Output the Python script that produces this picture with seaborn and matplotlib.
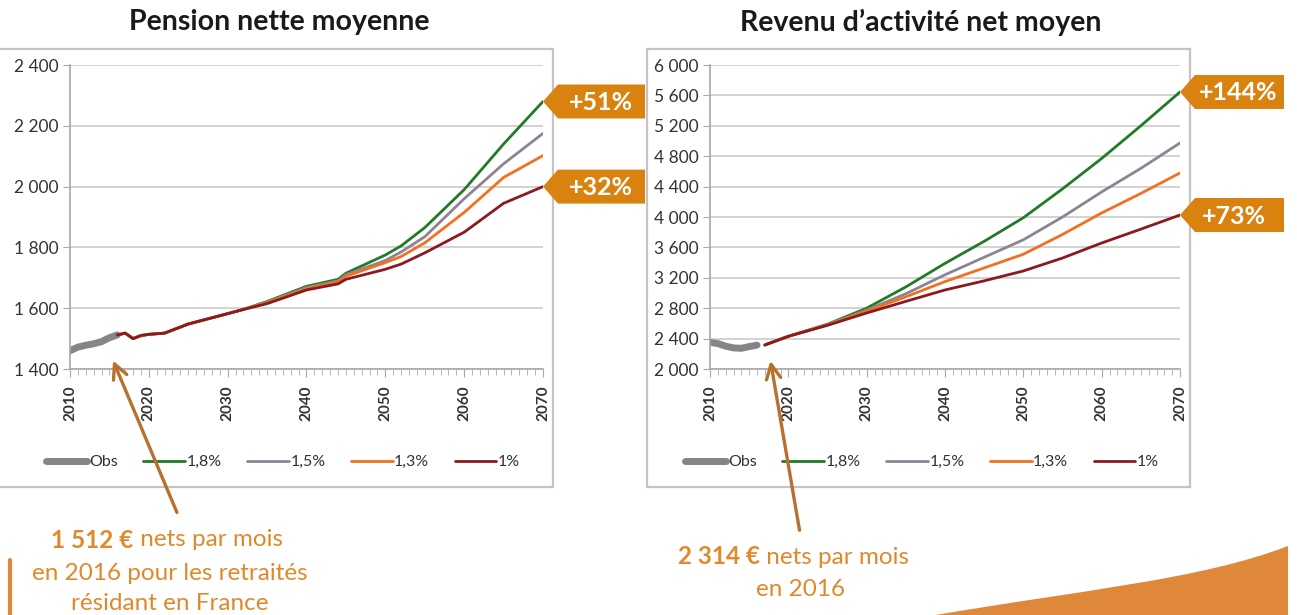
import matplotlib.pyplot as plt
import matplotlib.patches as mpatches
from matplotlib.path import Path
from matplotlib.ticker import FuncFormatter, MultipleLocator
import seaborn as sns

# -------------------------------
# Data
# -------------------------------
obs_years = [2010, 2011, 2012, 2013, 2014, 2015, 2016]
pension_obs = [1460, 1472, 1478, 1483, 1490, 1503, 1512]
revenu_obs = [2350, 2335, 2300, 2278, 2272, 2295, 2314]

proj_years_p = [2016, 2017, 2018, 2019, 2020, 2022, 2025, 2030, 2032,
                2035, 2040, 2044, 2045, 2050, 2052, 2055, 2060, 2065, 2070]
pension_18 = [1512, 1518, 1500, 1510, 1514, 1518, 1548, 1582, 1596,
              1622, 1672, 1695, 1715, 1775, 1805, 1865, 1990, 2140, 2280]
pension_15 = [1512, 1518, 1500, 1510, 1514, 1518, 1548, 1582, 1596,
              1620, 1668, 1690, 1710, 1757, 1785, 1835, 1960, 2075, 2175]
pension_13 = [1512, 1518, 1500, 1510, 1514, 1518, 1548, 1582, 1596,
              1618, 1664, 1686, 1705, 1750, 1770, 1815, 1915, 2030, 2102]
pension_10 = [1512, 1518, 1500, 1510, 1514, 1518, 1548, 1582, 1596,
              1615, 1660, 1680, 1695, 1728, 1745, 1782, 1850, 1945, 2000]

proj_years_r = [2017, 2020, 2025, 2030, 2035, 2040, 2045, 2050, 2055,
                2060, 2065, 2070]
revenu_18 = [2316, 2430, 2590, 2800, 3080, 3390, 3680, 3990, 4370,
             4770, 5200, 5645]
revenu_15 = [2316, 2430, 2585, 2775, 2990, 3240, 3470, 3700, 4000,
             4330, 4640, 4974]
revenu_13 = [2316, 2430, 2580, 2760, 2950, 3150, 3330, 3510, 3770,
             4053, 4310, 4579]
revenu_10 = [2316, 2430, 2575, 2737, 2890, 3040, 3160, 3290, 3460,
             3658, 3840, 4026]

scenarios = ["1,8%", "1,5%", "1,3%", "1%"]
colors = ["#217a25", "#8c8496", "#f2701f", "#8b1a1f"]

titles = ["Pension nette moyenne", "Revenu d\u2019activit\u00e9 net moyen"]
badges_left = ["+51%", "+32%"]
badges_right = ["+144%", "+73%"]

W, H = 1297, 615
ORANGE = "#d9820f"
TEXT_ORANGE = "#e0892b"
ARROW = "#b8702e"

sns.set_style("white")
plt.rcParams["font.family"] = ["Lato", "DejaVu Sans"]

fig = plt.figure(figsize=(W / 100, H / 100), dpi=100)


def px_axes(x0, y0, x1, y1):
    return fig.add_axes([x0 / W, (H - y1) / H, (x1 - x0) / W, (y1 - y0) / H])


fmt = FuncFormatter(lambda v, p: f"{int(v):,}".replace(",", " "))


def style_axes(ax, ylim, ystep):
    ax.set_xlim(2010, 2070)
    ax.set_ylim(*ylim)
    ax.xaxis.set_major_locator(MultipleLocator(10))
    ax.xaxis.set_minor_locator(MultipleLocator(1))
    ax.yaxis.set_major_locator(MultipleLocator(ystep))
    ax.yaxis.set_major_formatter(fmt)
    ax.grid(axis="y", color="#cfcfcf", lw=1.3)
    ax.set_axisbelow(True)
    for s in ["top", "right"]:
        ax.spines[s].set_visible(False)
    for s in ["left", "bottom"]:
        ax.spines[s].set_color("#a8a8a8")
        ax.spines[s].set_linewidth(1.2)
    ax.tick_params(axis="y", which="major", left=True, length=5, color="#a8a8a8",
                   labelsize=12.5, labelcolor="#333333", pad=3)
    ax.tick_params(axis="x", which="major", bottom=True, length=6, color="#a8a8a8",
                   labelsize=11, labelcolor="#333333", labelrotation=90, pad=6)
    ax.tick_params(axis="x", which="minor", bottom=True, length=4, color="#a8a8a8")
    for lab in ax.get_xticklabels():
        lab.set_fontweight("bold")
    ax.set_xlabel("")
    ax.set_ylabel("")


def draw_panel(ax, obs, proj_years, series):
    sns.lineplot(x=obs_years, y=obs, ax=ax, color="#858585", lw=5,
                 label="Obs", solid_capstyle="round")
    for name, vals, c in zip(scenarios, series, colors):
        sns.lineplot(x=proj_years, y=vals, ax=ax, color=c, lw=2, label=name)


ax1 = px_axes(70, 65, 543, 369)
draw_panel(ax1, pension_obs, proj_years_p,
           [pension_18, pension_15, pension_13, pension_10])
style_axes(ax1, (1400, 2400), 200)

ax2 = px_axes(710, 65, 1180, 369)
draw_panel(ax2, revenu_obs, proj_years_r,
           [revenu_18, revenu_15, revenu_13, revenu_10])
style_axes(ax2, (2000, 6000), 400)

for ax, cx in [(ax1, 283), (ax2, 922)]:
    ax.legend(loc="center", bbox_to_anchor=(cx / W, (H - 462) / H),
              bbox_transform=fig.transFigure, ncol=5, frameon=False,
              handlelength=2.6, handletextpad=0.1, columnspacing=1.6,
              prop={"size": 11.5}, labelcolor="#333333")

# overlay in pixel coordinates for frames, badges and notes
ov = fig.add_axes([0, 0, 1, 1], zorder=10)
ov.set_xlim(0, W)
ov.set_ylim(H, 0)
ov.axis("off")
ov.patch.set_visible(False)

ov.add_patch(mpatches.Rectangle((-5, 49), 558, 438, fill=False,
                                ec="#c4c4c4", lw=1.6))
ov.add_patch(mpatches.Rectangle((647, 49), 543, 438, fill=False,
                                ec="#c4c4c4", lw=1.6))

ov.text(279, 22, titles[0], ha="center", va="center", fontsize=20.5,
        fontweight="bold", color="#1a1a1a")
ov.text(921, 22, titles[1], ha="center", va="center", fontsize=20.5,
        fontweight="bold", color="#1a1a1a")


def badge(ax, value, text, width, tx):
    dx, dy = ax.transData.transform((2070, value))
    x0, y0 = dx, H - dy
    pts = [(x0, y0), (x0 + 15, y0 - 17), (x0 + width, y0 - 17),
           (x0 + width, y0 + 17), (x0 + 15, y0 + 17)]
    ov.add_patch(mpatches.Polygon(pts, closed=True, fc=ORANGE, ec="none"))
    ov.text(x0 + tx, y0 + 1, text, ha="center", va="center", color="white",
            fontsize=18, fontweight="bold")


badge(ax1, pension_18[-1], badges_left[0], 102, 58)
badge(ax1, pension_10[-1], badges_left[1], 102, 58)
badge(ax2, revenu_18[-1], badges_right[0], 104, 58)
badge(ax2, revenu_10[-1], badges_right[1], 104, 54)

# arrows pointing at the 2016 values
ov.annotate("", xy=(112, 358), xytext=(178, 515),
            arrowprops=dict(arrowstyle="->", color=ARROW, lw=2.4,
                            mutation_scale=26))
ov.annotate("", xy=(770, 358), xytext=(800, 533),
            arrowprops=dict(arrowstyle="->", color=ARROW, lw=2.4,
                            mutation_scale=26))

fs = 17.5
renderer = fig.canvas.get_renderer()


def mixed_line(cx, y, bold, rest):
    # bold figure followed by regular text, centred as one line
    t1 = ov.text(0, y, bold, ha="left", va="center", fontsize=fs,
                 fontweight="bold", color=TEXT_ORANGE)
    t2 = ov.text(0, y, rest, ha="left", va="center", fontsize=fs,
                 color=TEXT_ORANGE)
    w1 = t1.get_window_extent(renderer).width
    w2 = t2.get_window_extent(renderer).width
    x0 = cx - (w1 + w2) / 2
    t1.set_x(x0)
    t2.set_x(x0 + w1)


mixed_line(167, 540, "1 512 \u20ac", " nets par mois")
ov.text(170, 573, "en 2016 pour les retraités", ha="center", va="center",
        fontsize=fs, color=TEXT_ORANGE)
ov.text(170, 603, "résidant en France", ha="center", va="center",
        fontsize=fs, color=TEXT_ORANGE)

mixed_line(793, 557, "2 314 \u20ac", " nets par mois")
ov.text(800, 590, "en 2016", ha="center", va="center", fontsize=fs,
        color=TEXT_ORANGE)

# decorative shapes
ov.plot([10, 10], [560, 616], color="#e0883a", lw=3)
verts = [(930, 616), (1080, 590), (1200, 580), (1288, 546),
         (1288, 616), (930, 616)]
codes = [Path.MOVETO, Path.CURVE4, Path.CURVE4, Path.CURVE4,
         Path.LINETO, Path.CLOSEPOLY]
ov.add_patch(mpatches.PathPatch(Path(verts, codes), fc="#e0883a", ec="none"))

fig.savefig("out.png", dpi=100)
